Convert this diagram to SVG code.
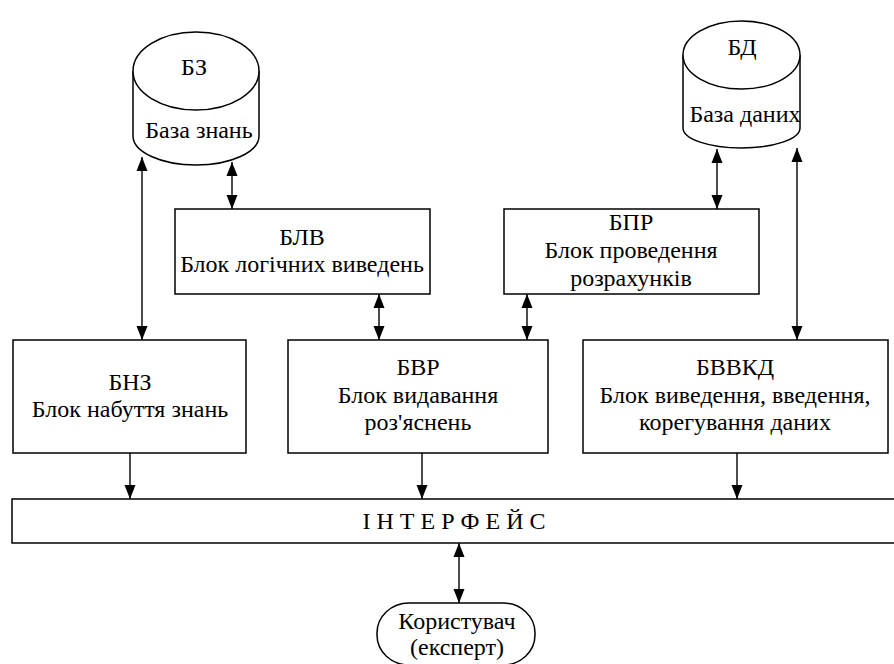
<svg xmlns="http://www.w3.org/2000/svg" width="894" height="664" viewBox="0 0 894 664">
  <style>
    .shape { fill: #ffffff; stroke: #000000; stroke-width: 1.5; }
    .wire { fill: none; stroke: #000000; stroke-width: 1.4; }
    text { font-family: 'Liberation Serif', 'Times New Roman', serif; font-size: 24px; fill: #000000; text-anchor: middle; }
  </style>
  <defs>
    <marker id="head" markerUnits="userSpaceOnUse" markerWidth="16" markerHeight="12" viewBox="0 0 16 12" refX="14" refY="6" orient="auto-start-reverse">
      <path d="M0,0.5 L14,6 L0,11.5 Z" fill="#000000"/>
    </marker>
  </defs>

  <rect width="894" height="664" fill="#ffffff"/>

  <!-- knowledge base cylinder -->
  <g id="bz">
    <path class="shape" d="M133,71 L133,136 A63,29 0 0,0 259,136 L259,71"/>
    <ellipse class="shape" cx="196" cy="71" rx="63" ry="39"/>
    <text x="194" y="75">БЗ</text>
    <text x="199" y="138">База знань</text>
  </g>

  <!-- database cylinder -->
  <g id="bd">
    <path class="shape" d="M683,55 L683,128 A58.5,20 0 0,0 800,128 L800,55"/>
    <ellipse class="shape" cx="741.5" cy="55" rx="58.5" ry="34"/>
    <text x="742" y="55">БД</text>
    <text x="745" y="122">База даних</text>
  </g>

  <!-- inference block -->
  <g id="blv">
    <rect class="shape" x="175" y="209" width="255" height="85"/>
    <text x="302" y="245">БЛВ</text>
    <text x="302" y="272">Блок логічних виведень</text>
  </g>

  <!-- calculation block -->
  <g id="bpr">
    <rect class="shape" x="504" y="209" width="255" height="85"/>
    <text x="631" y="230">БПР</text>
    <text x="631" y="258">Блок проведення</text>
    <text x="631" y="286">розрахунків</text>
  </g>

  <!-- knowledge acquisition block -->
  <g id="bnz">
    <rect class="shape" x="13" y="340" width="233" height="113"/>
    <text x="130" y="390">БНЗ</text>
    <text x="130" y="417">Блок набуття знань</text>
  </g>

  <!-- explanation block -->
  <g id="bvr">
    <rect class="shape" x="288" y="340" width="260" height="113"/>
    <text x="418" y="375">БВР</text>
    <text x="418" y="403">Блок видавання</text>
    <text x="418" y="430">роз'яснень</text>
  </g>

  <!-- data I/O block -->
  <g id="bvvkd">
    <rect class="shape" x="583" y="340" width="305" height="113"/>
    <text x="735" y="375">БВВКД</text>
    <text x="735" y="403">Блок виведення, введення,</text>
    <text x="735" y="430">корегування даних</text>
  </g>

  <!-- interface bar -->
  <g id="interface">
    <rect class="shape" x="12" y="499" width="900" height="44"/>
    <text x="454" y="529">І Н Т Е Р Ф Е Й С</text>
  </g>

  <!-- user terminal -->
  <g id="user">
    <rect class="shape" x="377" y="603" width="158" height="62" rx="32" ry="30"/>
    <text x="457" y="629">Користувач</text>
    <text x="457" y="655">(експерт)</text>
  </g>

  <!-- connectors -->
  <g id="connectors">
    <line class="wire" x1="142" y1="157" x2="142" y2="340" marker-start="url(#head)" marker-end="url(#head)"/>
    <line class="wire" x1="232" y1="162" x2="232" y2="209" marker-start="url(#head)" marker-end="url(#head)"/>
    <line class="wire" x1="379" y1="294" x2="379" y2="340" marker-start="url(#head)" marker-end="url(#head)"/>
    <line class="wire" x1="527" y1="294" x2="527" y2="340" marker-start="url(#head)" marker-end="url(#head)"/>
    <line class="wire" x1="717" y1="149" x2="717" y2="209" marker-start="url(#head)" marker-end="url(#head)"/>
    <line class="wire" x1="797" y1="148" x2="797" y2="340" marker-start="url(#head)" marker-end="url(#head)"/>
    <line class="wire" x1="130" y1="453" x2="130" y2="499" marker-end="url(#head)"/>
    <line class="wire" x1="422" y1="453" x2="422" y2="499" marker-end="url(#head)"/>
    <line class="wire" x1="737" y1="453" x2="737" y2="499" marker-end="url(#head)"/>
    <line class="wire" x1="459" y1="543" x2="459" y2="603" marker-start="url(#head)" marker-end="url(#head)"/>
  </g>
</svg>
